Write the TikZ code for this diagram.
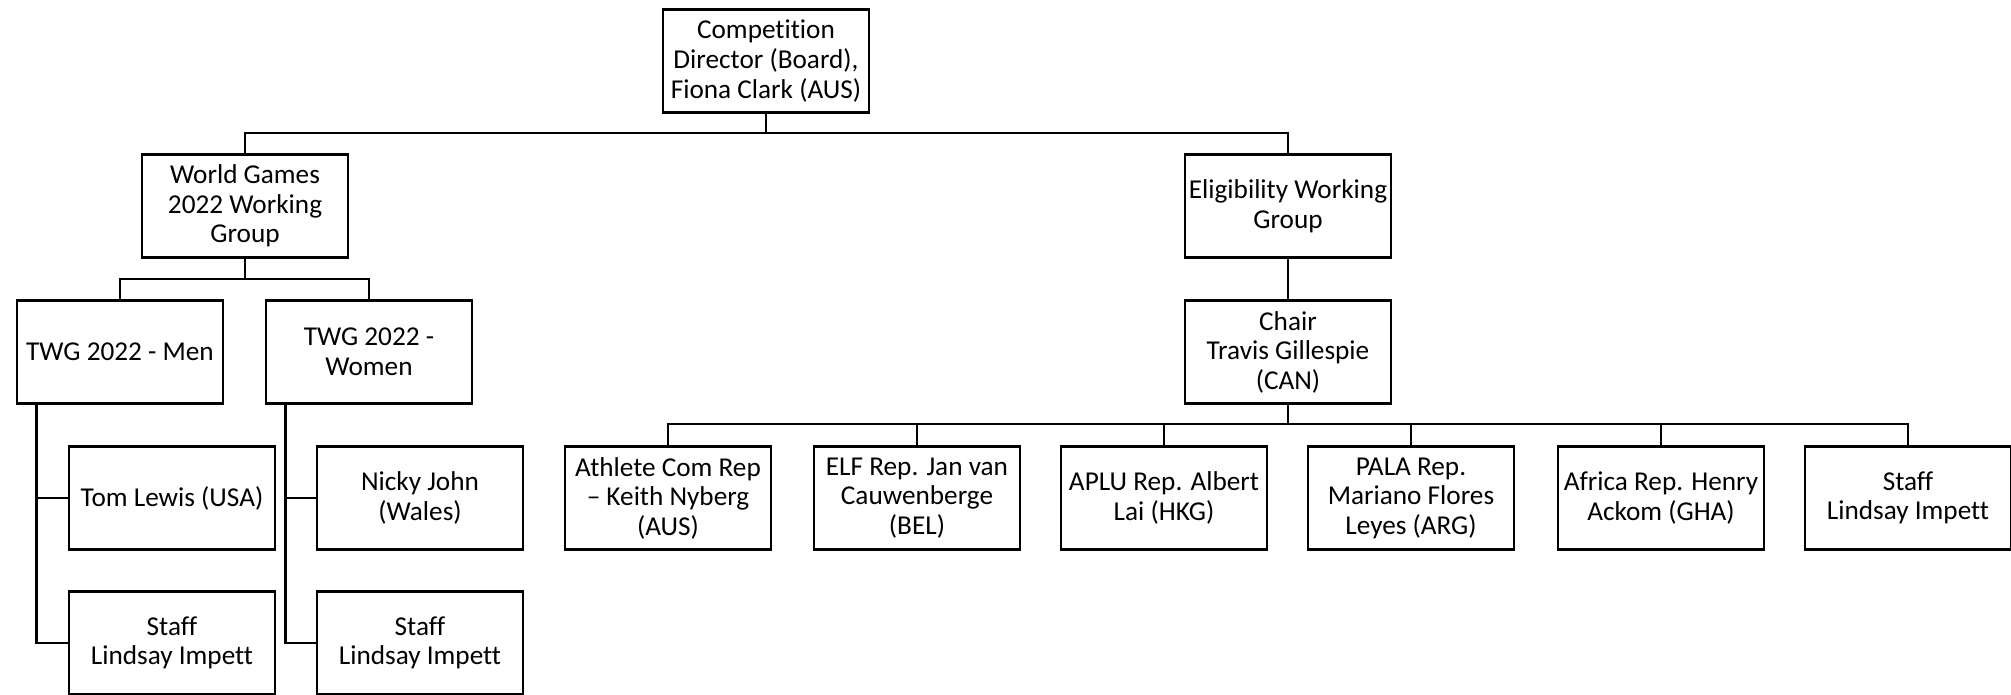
\documentclass[tikz,border=0pt]{standalone}
\usepackage{fontspec}
\setmainfont{Carlito}[Ligatures=NoCommon]
\begin{document}
\begin{tikzpicture}[
    x=0.02cm, y=-0.02cm,
    unit/.style={rectangle, draw, line width=1.6pt, align=center, minimum width=4.12cm, minimum height=2.05cm, inner sep=2pt, font=\fontsize{15.5}{16.8}\selectfont},
    link/.style={line width=1.6pt}
]
\useasboundingbox (0,0) rectangle (2011,694);

\node[unit] (director) at (766,61) {Competition\\Director (Board),\\Fiona Clark (AUS)};

\node[unit] (wg) at (245,206) {World Games\\2022 Working\\Group};
\node[unit] (elig) at (1288,206) {Eligibility Working\\Group};

\node[unit] (twgm) at (120,352) {TWG 2022 - Men};
\node[unit] (twgw) at (369,352) {TWG 2022 -\\Women};
\node[unit] (chair) at (1288,352) {Chair\\Travis Gillespie\\(CAN)};

\node[unit] (tom) at (172,498) {Tom Lewis (USA)};
\node[unit] (staffm) at (172,643) {Staff\\Lindsay Impett};
\node[unit] (nicky) at (420,498) {Nicky John\\(Wales)};
\node[unit] (staffw) at (420,643) {Staff\\Lindsay Impett};

\node[unit] (athlete) at (668,498) {Athlete Com Rep\\– Keith Nyberg\\(AUS)};
\node[unit] (elf) at (917,498) {ELF Rep. Jan van\\Cauwenberge\\(BEL)};
\node[unit] (aplu) at (1164,498) {APLU Rep. Albert\\Lai (HKG)};
\node[unit] (pala) at (1411,498) {PALA Rep.\\Mariano Flores\\Leyes (ARG)};
\node[unit] (africa) at (1661,498) {Africa Rep. Henry\\Ackom (GHA)};
\node[unit] (staffe) at (1908,498) {Staff\\Lindsay Impett};

\coordinate (topbus) at (766,133);
\coordinate (wgbus) at (245,279);
\coordinate (chairbus) at (1288,424);

\draw[link] (director) -- (topbus);
\draw[link] (wg.north) |- (topbus) -| (elig.north);
\draw[link] (wg) -- (wgbus);
\draw[link] (twgm.north) |- (wgbus) -| (twgw.north);
\draw[link] (elig) -- (chair);
\draw[link] (chair) -- (chairbus);
\foreach \n in {athlete,elf,aplu,pala,africa,staffe}
    \draw[link] (chairbus) -| (\n.north);

\draw[link] ([xshift=0.41cm]twgm.south west) |- (tom.west);
\draw[link] ([xshift=0.41cm]twgm.south west) |- (staffm.west);
\draw[link] ([xshift=0.41cm]twgw.south west) |- (nicky.west);
\draw[link] ([xshift=0.41cm]twgw.south west) |- (staffw.west);

\end{tikzpicture}
\end{document}
